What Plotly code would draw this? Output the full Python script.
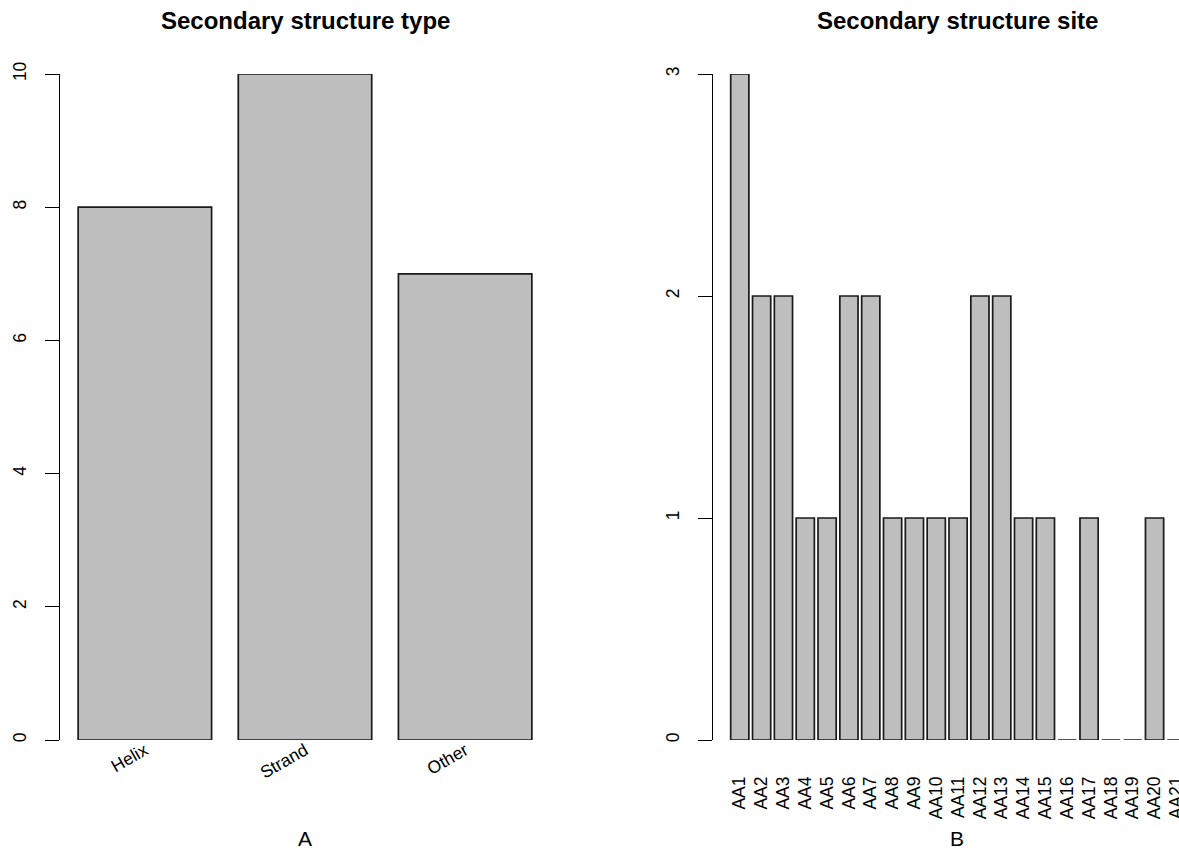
import plotly.graph_objects as go

# ---- data ----
type_labels = ["Helix", "Strand", "Other"]
type_counts = [8, 10, 7]

site_labels = ["AA1", "AA2", "AA3", "AA4", "AA5", "AA6", "AA7", "AA8", "AA9", "AA10",
               "AA11", "AA12", "AA13", "AA14", "AA15", "AA16", "AA17", "AA18", "AA19",
               "AA20", "AA21"]
site_counts = [3, 2, 2, 1, 1, 2, 2, 1, 1, 1, 1, 2, 2, 1, 1, 0, 1, 0, 0, 1, 0]

left_title = "Secondary structure type"
right_title = "Secondary structure site"
left_xlabel = "A"
right_xlabel = "B"

# ---- layout constants ----
W, H = 1179, 849
FONT = "Liberation Sans, Arial, Helvetica, sans-serif"
BAR_FILL = "#BEBEBE"
BAR_LINE = "#1a1a1a"


def px_x(p):
    return p / W


def px_y(p):
    return (H - p) / H


fig = go.Figure()

fig.add_trace(go.Bar(
    x=type_labels, y=type_counts, xaxis="x", yaxis="y",
    marker=dict(color=BAR_FILL, line=dict(color=BAR_LINE, width=1.7)),
    cliponaxis=False, showlegend=False, hoverinfo="x+y",
))
fig.add_trace(go.Bar(
    x=site_labels, y=site_counts, xaxis="x2", yaxis="y2",
    marker=dict(color=BAR_FILL, line=dict(color=BAR_LINE, width=1.7)),
    cliponaxis=False, showlegend=False, hoverinfo="x+y",
))

ydom = [px_y(740), px_y(74)]
tickfont = dict(family=FONT, size=17.5, color="black")

fig.update_layout(
    width=W, height=H,
    margin=dict(l=0, r=0, t=0, b=0, autoexpand=False),
    paper_bgcolor="white", plot_bgcolor="white",
    bargap=1 - 1 / 1.2,
    font=dict(family=FONT, color="black"),
    xaxis=dict(
        domain=[px_x(60), px_x(550)], range=[-0.53, 2.53],
        showgrid=False, zeroline=False, showline=False, automargin=False,
        ticks="", tickangle=-30, tickfont=tickfont, ticklabelstandoff=-4,
        anchor="y",
    ),
    yaxis=dict(
        domain=ydom, range=[0, 10], dtick=2,
        showgrid=False, zeroline=False, showline=True, linecolor="black", linewidth=1,
        ticks="outside", ticklen=14, tickcolor="black", tickwidth=1, automargin=False,
        tickangle=-90, tickfont=tickfont, ticklabelstandoff=12, anchor="x",
    ),
    xaxis2=dict(
        domain=[px_x(712.5), 1.0], range=[-1.25, 20.12],
        showgrid=False, zeroline=False, showline=False, automargin=False,
        ticks="", tickangle=-90, tickfont=tickfont, ticklabelstandoff=32,
        anchor="y2",
    ),
    yaxis2=dict(
        domain=ydom, range=[0, 3], dtick=1,
        showgrid=False, zeroline=False, showline=True, linecolor="black", linewidth=1,
        ticks="outside", ticklen=14, tickcolor="black", tickwidth=1, automargin=False,
        tickangle=-90, tickfont=tickfont, ticklabelstandoff=12, anchor="x2",
    ),
    annotations=[
        dict(text="<b>%s</b>" % left_title, x=px_x(305), y=px_y(21), xref="paper", yref="paper",
             xanchor="center", yanchor="middle", showarrow=False,
             font=dict(family=FONT, size=24, color="black")),
        dict(text="<b>%s</b>" % right_title, x=px_x(957), y=px_y(21), xref="paper", yref="paper",
             xanchor="center", yanchor="middle", showarrow=False,
             font=dict(family=FONT, size=24, color="black")),
        dict(text=left_xlabel, x=px_x(305), y=px_y(838), xref="paper", yref="paper",
             xanchor="center", yanchor="middle", showarrow=False,
             font=dict(family=FONT, size=21, color="black")),
        dict(text=right_xlabel, x=px_x(957), y=px_y(838), xref="paper", yref="paper",
             xanchor="center", yanchor="middle", showarrow=False,
             font=dict(family=FONT, size=21, color="black")),
    ],
)

fig.write_html("out.html")
